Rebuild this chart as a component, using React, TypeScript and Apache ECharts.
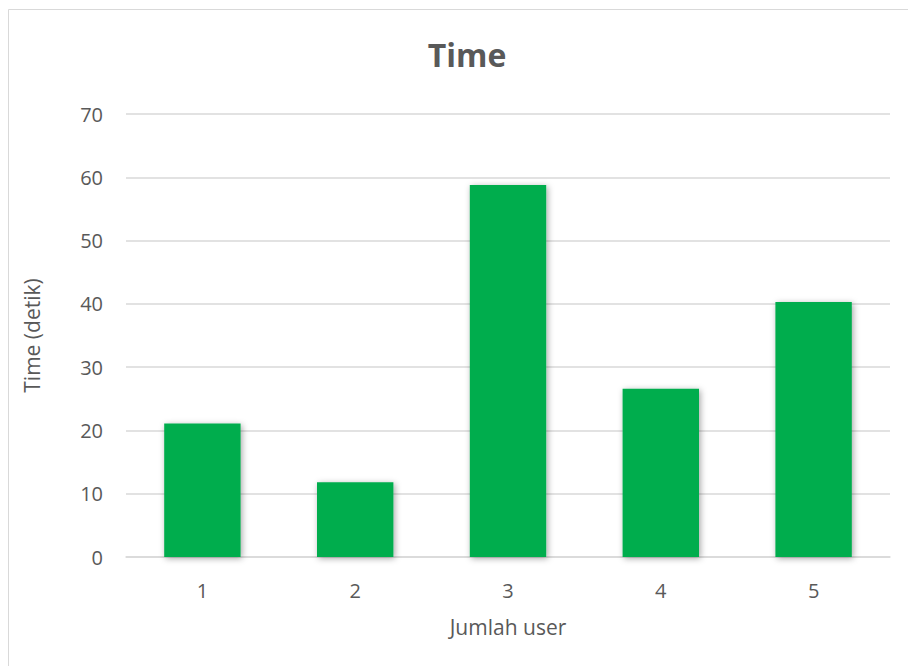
import React, { useEffect, useRef } from "react";
import * as echarts from "echarts";

const categories = ["1", "2", "3", "4", "5"];
const timeValues = [21.1, 11.8, 58.8, 26.6, 40.3];
const yTicks = { min: 0, max: 70, interval: 10 };

const FONT = "'Open Sans', 'Noto Sans', sans-serif";
const TEXT = "#595959";

export default function App() {
  const ref = useRef<HTMLDivElement>(null);

  useEffect(() => {
    if (!ref.current) return;
    const chart = echarts.init(ref.current, undefined, { renderer: "svg" });
    chart.setOption({
      animation: false,
      backgroundColor: "#ffffff",
      title: {
        text: "Time",
        left: 462,
        top: 33,
        textAlign: "center",
        textStyle: { fontFamily: FONT, fontSize: 32, fontWeight: "bold", color: TEXT },
      },
      graphic: [
        {
          type: "rect",
          shape: { x: 8.5, y: 9.5, width: 920, height: 680 },
          style: { fill: "none", stroke: "#d9d9d9", lineWidth: 1 },
          silent: true,
        },
      ],
      grid: { left: 126, right: 18, top: 114, bottom: 109 },
      xAxis: {
        type: "category",
        data: categories,
        name: "Jumlah user",
        nameLocation: "middle",
        nameGap: 59,
        nameTextStyle: { fontFamily: FONT, fontSize: 21, color: TEXT, verticalAlign: "top" },
        axisLine: { show: true, lineStyle: { color: "#d9d9d9", width: 1.5 } },
        axisTick: { show: false },
        axisLabel: { fontFamily: FONT, fontSize: 20, color: TEXT, margin: 23 },
      },
      yAxis: {
        type: "value",
        min: yTicks.min,
        max: yTicks.max,
        interval: yTicks.interval,
        name: "Time (detik)",
        nameLocation: "middle",
        nameGap: 84,
        nameTextStyle: { fontFamily: FONT, fontSize: 21, color: TEXT },
        axisLine: { show: false },
        axisTick: { show: false },
        axisLabel: { fontFamily: FONT, fontSize: 20, color: TEXT, margin: 23 },
        splitLine: { lineStyle: { color: "#d9d9d9", width: 1.5 } },
      },
      series: [
        {
          type: "bar",
          data: timeValues,
          barWidth: "50%",
          itemStyle: {
            color: "#00ad4e",
            shadowBlur: 6,
            shadowColor: "rgba(0,0,0,0.35)",
            shadowOffsetX: 1.5,
            shadowOffsetY: 1.5,
          },
        },
      ],
    });
    return () => chart.dispose();
  }, []);

  return (
    <div
      ref={ref}
      style={{ position: "fixed", left: 0, top: 0, width: 908, height: 666 }}
    />
  );
}
